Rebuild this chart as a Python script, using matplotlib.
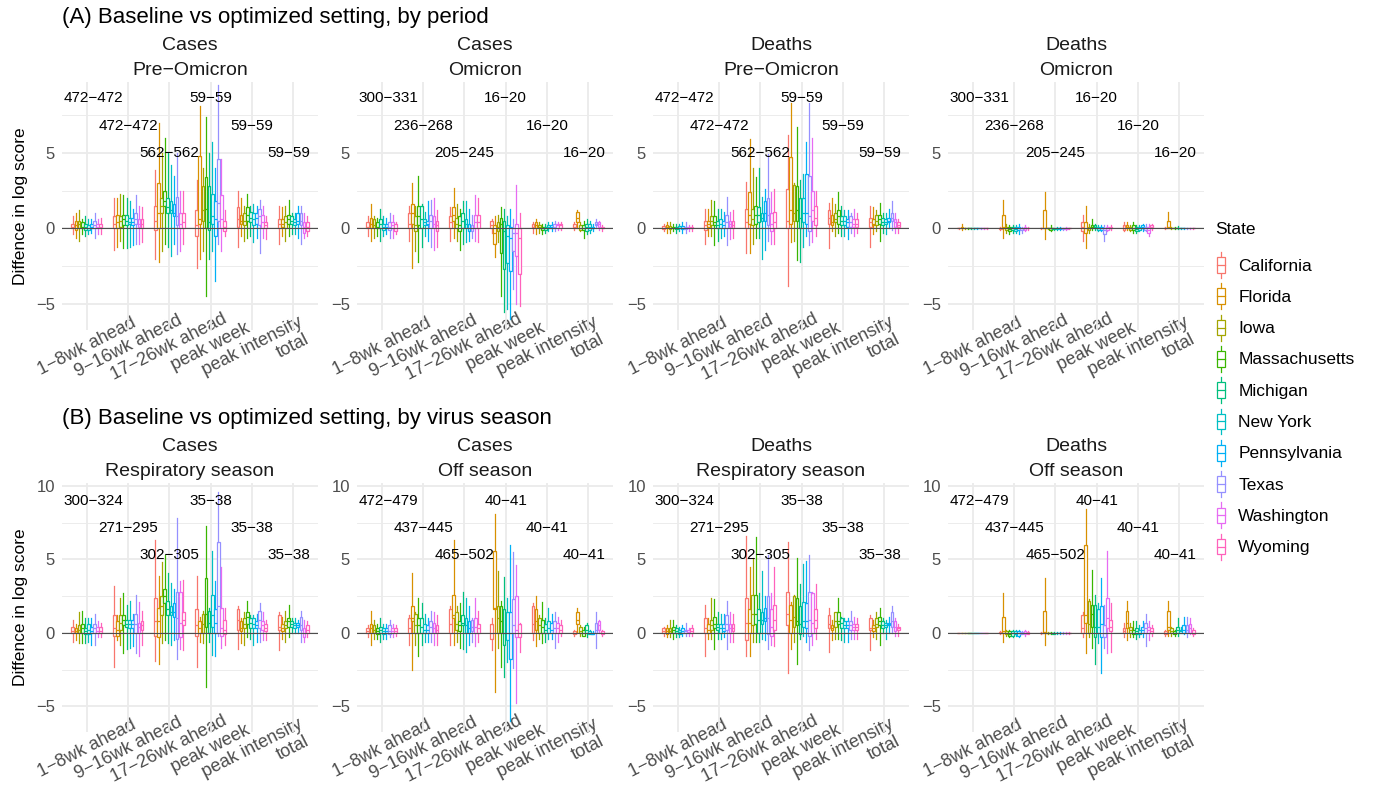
import matplotlib
matplotlib.use("Agg")
import matplotlib.pyplot as plt
from matplotlib.legend_handler import HandlerBase
from matplotlib.lines import Line2D
from matplotlib.patches import Rectangle

plt.rcParams['font.family'] = ['Liberation Sans', 'DejaVu Sans']

states = ["California", "Florida", "Iowa", "Massachusetts", "Michigan",
          "New York", "Pennsylvania", "Texas", "Washington", "Wyoming"]
colors = ["#F8766D", "#D89000", "#A3A500", "#39B600", "#00BF7D",
          "#00BFC4", "#00B0F6", "#9590FF", "#E76BF3", "#FF62BC"]
targets = ["1\u22128wk ahead", "9\u221216wk ahead", "17\u221226wk ahead",
           "peak week", "peak intensity", "total"]

# (whisker low, q1, median, q3, whisker high) per target, per state
cases_pre = [
    [(-0.4, 0, 0.1, 0.3, 0.8), (-0.6, -0.1, 0.2, 0.5, 1.0), (-0.8, 0, 0.3, 0.5, 1.2), (-0.4, 0, 0.1, 0.4, 0.6), (-0.5, -0.1, 0.1, 0.3, 0.8),
     (-0.4, -0.1, 0.05, 0.2, 0.6), (-0.3, 0, 0.1, 0.3, 0.6), (-0.6, 0, 0.2, 0.5, 1.0), (-0.4, 0, 0.1, 0.3, 0.6), (-0.4, 0, 0.1, 0.3, 0.7)],
    [(-1.4, 0, 0.3, 0.8, 2.0), (-1.2, 0, 0.4, 0.9, 2.0), (-0.8, 0.1, 0.5, 0.8, 2.3), (-1.3, 0.2, 0.6, 0.9, 2.2), (-1.3, 0.2, 0.5, 0.9, 2.0),
     (-1.2, 0.3, 0.4, 0.7, 1.8), (-1.1, 0.2, 0.4, 0.7, 1.3), (-1.0, 0.3, 0.6, 1.0, 2.2), (-1.0, 0.1, 0.3, 0.6, 1.5), (-0.9, 0, 0.3, 0.6, 1.4)],
    [(-2.0, -0.1, 0.5, 1.5, 3.9), (-2.2, 0, 1.0, 3.0, 7.0), (-1.5, 1.0, 1.5, 2.0, 5.0), (-1.0, 1.5, 1.8, 2.5, 6.0), (-1.2, 1.0, 1.4, 2.0, 5.0),
     (-1.8, 1.0, 1.2, 1.8, 4.2), (-1.0, 0.8, 1.0, 1.6, 3.5), (-1.7, 0.2, 0.8, 2.1, 5.0), (-1.5, 0, 0.3, 1.0, 2.5), (-1.0, 0, 0.4, 1.0, 2.5)],
    [(-2.6, -0.5, 0.2, 1.2, 3.2), (-2.0, 0.3, 0.6, 4.8, 8.1), (-1.5, 0.5, 1.2, 2.8, 4.0), (-4.5, 0, 1.3, 3.4, 7.4), (-2.0, -0.1, 0.4, 2.8, 5.0),
     (-1.5, 0.3, 0.8, 2.3, 5.7), (-3.5, -0.5, 0.6, 1.8, 4.0), (-1.0, 0.5, 1.7, 4.6, 9.5), (-1.5, 0, 0.6, 2.2, 4.6), (-0.5, -0.2, 0.1, 0.5, 1.2)],
    [(-1.2, 0.1, 0.6, 1.4, 2.5), (-0.5, 0.3, 0.5, 0.9, 2.0), (-0.8, 0.2, 0.5, 1.0, 1.5), (-0.6, 0.5, 0.9, 1.4, 2.3), (-0.5, 0.4, 0.7, 1.1, 1.5),
     (-0.9, 0.2, 0.6, 1.0, 1.6), (-0.6, 0.3, 0.7, 1.0, 1.5), (-1.6, 0.2, 0.8, 1.3, 1.9), (-0.6, 0, 0.4, 0.9, 1.5), (-0.7, 0, 0.2, 0.4, 0.8)],
    [(-1.0, 0, 0.3, 0.6, 1.5), (-0.5, 0.1, 0.3, 0.6, 1.4), (-0.8, 0, 0.4, 0.8, 1.5), (-0.5, 0.3, 0.6, 0.9, 1.9), (-0.4, 0.3, 0.5, 0.8, 1.0),
     (-0.4, 0.2, 0.4, 0.6, 1.0), (-0.6, 0.3, 0.5, 1.0, 1.5), (-1.0, 0.2, 0.5, 1.0, 1.5), (-0.6, -0.3, 0.1, 0.4, 1.0), (-0.5, -0.2, 0.1, 0.4, 0.8)],
]

cases_omi = [
    [(-0.5, 0, 0.1, 0.4, 0.8), (-0.8, 0, 0.3, 0.7, 1.6), (-0.6, 0, 0.2, 0.6, 0.8), (-0.5, 0, 0.1, 0.4, 0.7), (-0.8, 0, 0.3, 0.6, 1.3),
     (-0.5, -0.1, 0.1, 0.3, 0.8), (-0.4, 0, 0.1, 0.3, 0.7), (-0.6, -0.1, 0.1, 0.4, 1.0), (-0.6, 0, 0.2, 0.4, 0.9), (-0.4, -0.2, 0, 0.3, 0.4)],
    [(-0.8, 0, 0.3, 1.0, 1.5), (-2.6, 0.3, 1.0, 1.6, 3.0), (-1.5, -0.2, 0.2, 0.8, 1.5), (-2.2, 0.2, 0.8, 1.5, 3.5), (-1.2, 0, 0.6, 1.5, 1.6),
     (-0.5, 0.2, 0.4, 0.6, 1.1), (-0.8, 0.2, 0.3, 0.5, 1.8), (-1.2, 0, 0.5, 0.9, 1.9), (-1.4, 0, 0.3, 0.8, 2.0), (-1.2, -0.2, 0.2, 0.5, 1.2)],
    [(-0.8, 0, 0.4, 0.8, 1.4), (-0.6, 0.5, 0.9, 1.4, 2.7), (-0.8, 0, 0.3, 0.7, 1.6), (-1.4, -0.2, 0.2, 0.8, 1.3), (-1.0, 0, 0.5, 1.0, 1.8),
     (-0.9, 0, 0.3, 0.6, 1.8), (-0.8, -0.2, 0, 0.3, 1.3), (-0.6, -0.2, 0, 0.2, 0.9), (-0.8, 0, 0.4, 0.9, 2.2), (-0.9, 0, 0.4, 0.9, 2.0)],
    [(-0.3, 0, 0.2, 0.5, 0.6), (-1.9, -1.0, -0.3, 0.2, 0.8), (-0.9, -0.2, 0.1, 0.4, 0.9), (-4.5, -1.6, 0.3, 0.7, 1.4), (-5.5, -2.7, -0.2, 0.5, 1.3),
     (-5.3, -2.3, -0.5, 0.2, 0.8), (-6.0, -2.8, -0.6, 0.1, 1.3), (-4.0, -1.5, -0.3, 0, 0.6), (-5.0, -1.8, -0.3, 0.3, 2.9), (-5.1, -3.0, -0.6, 0, 1.0)],
    [(-0.3, 0, 0.1, 0.3, 0.4), (-0.4, 0, 0.2, 0.4, 0.6), (-0.3, 0, 0.1, 0.2, 0.4), (-0.4, -0.1, 0, 0.1, 0.3), (-0.3, -0.1, 0, 0.1, 0.3),
     (-0.2, 0, 0.1, 0.2, 0.4), (-0.2, 0, 0.1, 0.2, 0.4), (-0.2, 0, 0.1, 0.3, 0.5), (-0.1, 0, 0.2, 0.3, 0.4), (-0.1, 0, 0.2, 0.3, 0.4)],
    [(-0.1, 0, 0.1, 0.3, 0.4), (0, 0.4, 0.7, 1.1, 1.2), (-0.2, -0.1, 0, 0.2, 0.4), (-0.6, -0.1, 0, 0.2, 0.5), (-0.4, -0.2, 0.1, 0.3, 0.6),
     (-0.3, -0.1, 0.1, 0.3, 0.5), (-0.2, 0, 0.05, 0.1, 0.3), (0, 0.2, 0.3, 0.4, 0.6), (-0.1, 0.1, 0.3, 0.4, 0.5), (-0.2, 0, 0.05, 0.1, 0.2)],
]

deaths_pre = [
    [(-0.2, -0.05, 0.05, 0.15, 0.3), (-0.3, 0, 0.1, 0.2, 0.4), (-0.3, -0.05, 0.05, 0.15, 0.4), (-0.2, 0, 0.05, 0.1, 0.3), (-0.3, -0.05, 0.05, 0.1, 0.3),
     (-0.2, 0, 0.05, 0.15, 0.3), (-0.3, -0.05, 0.05, 0.15, 0.4), (-0.3, -0.05, 0.05, 0.1, 0.4), (-0.2, 0, 0.05, 0.1, 0.2), (-0.2, 0, 0.05, 0.1, 0.2)],
    [(-1.0, -0.1, 0.2, 0.5, 1.3), (-0.5, 0.1, 0.3, 0.5, 1.3), (-0.5, 0.2, 0.5, 0.8, 1.9), (-1.1, 0.2, 0.4, 0.8, 1.8), (-0.8, 0, 0.2, 0.5, 1.3),
     (-0.6, 0, 0.3, 0.6, 1.3), (-0.5, 0, 0.2, 0.5, 1.1), (-1.1, 0, 0.4, 0.9, 2.1), (-0.7, 0.1, 0.3, 0.5, 1.1), (-0.6, 0, 0.2, 0.5, 1.2)],
    [(-1.6, 0, 0.4, 1.3, 3.1), (-1.6, 0.3, 0.9, 2.4, 5.9), (-1.0, 0.2, 0.6, 1.3, 4.0), (-0.6, 0.3, 0.9, 1.5, 3.4), (-0.6, 0.4, 0.9, 1.4, 4.0),
     (-2.0, 0.5, 0.7, 1.0, 2.1), (-1.4, 0.5, 1.0, 1.8, 2.6), (-0.8, 0.2, 0.9, 2.0, 4.9), (-1.0, -0.2, 0.3, 1.0, 2.4), (-1.0, 0, 0.4, 1.1, 2.6)],
    [(-3.8, 0, 0.5, 2.6, 6.2), (-0.9, 0.3, 1.2, 4.7, 8.3), (-0.8, 0.5, 1.0, 2.9, 3.0), (-2.1, 0.5, 1.2, 2.8, 6.7), (-2.2, 0, 0.7, 2.0, 3.2),
     (-1.2, 0.4, 1.0, 2.0, 3.6), (-0.5, 0.3, 1.0, 3.6, 5.7), (-1.1, -0.2, 0.8, 3.5, 8.3), (-0.9, 0.5, 1.2, 2.5, 6.0), (-0.5, 0.2, 0.7, 1.5, 2.5)],
    [(-1.3, 0.3, 0.7, 1.2, 1.7), (-0.2, 0.2, 0.4, 0.9, 2.0), (-0.5, 0.4, 0.6, 1.0, 1.6), (-0.3, 0.3, 0.8, 1.2, 2.4), (-0.5, 0.2, 0.5, 0.8, 1.5),
     (-0.5, 0.2, 0.5, 0.8, 1.2), (-0.7, 0.1, 0.4, 0.6, 1.2), (-0.3, 0.1, 0.4, 0.8, 1.0), (-0.5, 0.1, 0.3, 0.6, 1.3), (-0.3, 0.1, 0.3, 0.6, 1.0)],
    [(-1.2, 0.1, 0.4, 0.7, 1.5), (-0.4, 0.2, 0.3, 0.6, 1.4), (-0.2, 0.2, 0.5, 0.9, 1.2), (-0.8, 0.3, 0.6, 0.9, 1.7), (-0.3, 0.2, 0.4, 0.7, 1.0),
     (-0.4, 0.3, 0.4, 0.6, 1.0), (0, 0.4, 0.5, 0.7, 1.3), (-0.1, 0.5, 0.7, 1.0, 1.8), (-0.3, 0.1, 0.4, 0.6, 1.0), (-0.3, 0.1, 0.2, 0.4, 0.6)],
]

deaths_omi = [
    [(-0.05, 0, 0, 0.02, 0.05), (-0.1, 0, 0.05, 0.1, 0.3), (-0.05, 0, 0, 0.02, 0.05), (-0.05, 0, 0, 0.02, 0.05), (-0.05, 0, 0, 0.02, 0.05),
     (-0.05, 0, 0, 0.02, 0.05), (-0.05, 0, 0, 0.02, 0.05), (-0.05, 0, 0, 0.02, 0.05), (-0.05, 0, 0, 0.02, 0.05), (-0.05, 0, 0, 0.02, 0.05)],
    [(-0.1, -0.05, 0, 0.05, 0.1), (-0.6, 0, 0.1, 0.9, 1.9), (-0.3, -0.1, 0, 0.1, 0.3), (-0.4, -0.2, -0.05, 0.1, 0.2), (-0.3, -0.1, 0, 0.1, 0.2),
     (-0.3, -0.2, -0.05, 0.1, 0.2), (-0.4, -0.1, 0, 0.1, 0.3), (-0.3, -0.1, 0, 0.05, 0.1), (-0.2, -0.1, 0, 0.1, 0.2), (-0.1, 0, 0, 0.05, 0.1)],
    [(-0.05, 0, 0, 0.02, 0.05), (-0.7, 0, 0.05, 1.2, 2.4), (-0.05, 0, 0, 0.02, 0.05), (-0.2, -0.1, 0, 0.05, 0.2), (-0.1, -0.05, 0, 0.02, 0.05),
     (-0.1, -0.05, 0, 0.02, 0.1), (-0.1, -0.05, 0, 0.02, 0.1), (-0.1, -0.05, 0, 0.02, 0.05), (-0.1, -0.05, 0, 0.02, 0.1), (-0.05, 0, 0, 0.02, 0.05)],
    [(-0.8, -0.2, 0.1, 0.4, 0.9), (-1.3, -0.3, 0, 0.4, 1.5), (-0.3, -0.1, 0, 0.1, 0.3), (-0.1, 0, 0.1, 0.2, 0.6), (-0.1, 0, 0.1, 0.2, 0.3),
     (-0.2, -0.1, 0, 0.1, 0.2), (-0.2, -0.1, 0, 0.1, 0.2), (-0.8, -0.4, -0.1, 0, 0.2), (-0.2, -0.1, 0, 0.1, 0.2), (-0.1, 0, 0.05, 0.1, 0.2)],
    [(-0.2, -0.1, 0, 0.2, 0.4), (-0.1, 0, 0.1, 0.2, 0.4), (-0.2, -0.1, 0, 0.1, 0.2), (-0.3, -0.1, 0, 0.2, 0.4), (-0.3, -0.2, -0.05, 0.1, 0.2),
     (-0.2, -0.1, 0, 0.1, 0.2), (-0.2, 0, 0.1, 0.2, 0.3), (-0.2, -0.1, 0, 0.1, 0.3), (-0.5, -0.3, -0.1, 0.1, 0.3), (-0.1, 0, 0.1, 0.2, 0.3)],
    [(-0.05, 0, 0, 0.05, 0.1), (0, 0, 0.1, 0.5, 1.1), (-0.05, 0, 0, 0.05, 0.1), (-0.05, 0, 0, 0.05, 0.1), (-0.05, 0, 0, 0.05, 0.15),
     (-0.05, 0, 0, 0.02, 0.05), (-0.05, 0, 0, 0.02, 0.05), (-0.05, 0, 0, 0.02, 0.05), (-0.05, 0, 0, 0.02, 0.05), (-0.05, 0, 0, 0.02, 0.05)],
]

cases_resp = [
    [(-0.6, 0, 0.1, 0.4, 0.9), (-0.5, 0, 0.1, 0.3, 0.6), (-0.7, 0, 0.2, 0.5, 1.4), (-0.7, 0, 0.3, 0.6, 1.5), (-0.7, -0.1, 0.1, 0.3, 1.0),
     (-0.6, -0.1, 0.2, 0.6, 1.0), (-0.8, 0, 0.1, 0.4, 1.0), (-0.8, 0, 0.3, 0.6, 1.3), (-0.3, 0, 0.1, 0.4, 0.8), (-0.3, 0, 0.1, 0.4, 0.7)],
    [(-2.3, -0.2, 0.3, 1.2, 3.2), (-0.5, -0.2, 0.2, 0.8, 1.2), (-0.8, 0.2, 0.7, 1.2, 2.4), (-1.4, 0.5, 0.9, 1.2, 2.7), (-1.1, 0.4, 0.6, 0.9, 1.9),
     (-1.0, 0.3, 0.6, 0.9, 2.2), (-0.9, 0.3, 0.6, 0.9, 1.3), (-1.4, 0, 0.6, 1.3, 2.6), (-1.6, 0, 0.4, 0.7, 2.1), (-0.8, 0.2, 0.5, 0.8, 1.5)],
    [(-1.9, -0.2, 0.8, 2.4, 6.3), (-2.1, -0.3, 0.8, 1.7, 3.9), (-0.7, 1.2, 1.8, 2.5, 4.8), (-0.5, 2.0, 2.5, 3.0, 5.3), (-0.7, 1.2, 1.6, 2.2, 4.1),
     (-0.8, 1.2, 1.4, 1.8, 3.4), (-0.5, 1.1, 1.4, 2.0, 3.0), (-1.8, -0.4, 1.0, 2.8, 7.8), (-1.1, -0.3, 0.7, 2.8, 3.5), (-1.2, 0.5, 0.9, 1.4, 3.6)],
    [(-2.3, -0.2, 0.5, 1.6, 3.9), (-0.6, 0, 0.3, 0.8, 1.1), (-0.7, 0, 0.6, 1.3, 1.5), (-3.7, 0.4, 1.3, 3.7, 7.3), (-0.6, 0, 0.7, 1.5, 1.7),
     (-1.5, 0.4, 1.2, 2.6, 5.6), (-1.6, 0, 0.7, 1.6, 3.5), (-0.2, 0, 1.8, 6.2, 9.6), (-1.0, -0.2, 0.3, 1.7, 4.5), (-0.8, -0.1, 0.2, 0.9, 1.7)],
    [(-1.1, 0.2, 0.9, 1.6, 1.8), (-0.7, 0.1, 0.3, 0.8, 1.0), (-0.8, 0.3, 0.6, 1.0, 1.4), (-0.3, 0.6, 1.1, 1.4, 2.2), (-0.4, 0.3, 0.7, 1.0, 1.2),
     (-0.8, 0.3, 0.6, 1.0, 1.2), (-0.6, 0.3, 0.5, 0.8, 1.3), (-0.6, 0.3, 0.9, 1.5, 2.0), (-0.5, 0.2, 0.5, 0.8, 1.4), (-0.5, 0.1, 0.3, 0.6, 0.9)],
    [(-1.2, 0.2, 0.4, 1.2, 1.4), (-0.4, 0.1, 0.3, 0.6, 1.1), (-0.6, 0.3, 0.5, 0.8, 1.5), (-0.3, 0.4, 0.8, 1.0, 1.9), (0, 0.4, 0.6, 0.8, 1.0),
     (0, 0.3, 0.5, 0.7, 1.0), (0, 0.4, 0.5, 0.7, 0.9), (-0.6, 0.2, 0.5, 1.1, 1.5), (-0.6, -0.3, 0, 0.3, 0.9), (-0.3, 0, 0.2, 0.5, 0.8)],
]

cases_off = [
    [(-0.3, 0, 0.1, 0.3, 0.5), (-0.8, 0, 0.3, 0.6, 1.5), (-0.4, 0, 0.2, 0.5, 0.9), (-0.4, -0.1, 0.1, 0.3, 0.6), (-0.6, 0, 0.2, 0.4, 1.0),
     (-0.4, -0.1, 0.1, 0.3, 0.6), (-0.4, 0, 0.1, 0.3, 0.6), (-0.3, -0.1, 0.1, 0.5, 0.9), (-0.3, 0, 0.1, 0.3, 0.6), (-0.2, 0, 0.1, 0.3, 0.5)],
    [(-0.8, 0, 0.3, 1.0, 1.2), (-2.5, 0.8, 1.0, 1.8, 4.1), (-0.8, 0, 0.5, 1.3, 1.4), (-1.6, 0, 0.5, 1.0, 2.4), (-0.8, 0, 0.4, 1.0, 2.0),
     (-0.6, 0, 0.2, 0.6, 1.3), (-0.6, 0, 0.2, 0.5, 1.0), (-0.6, 0, 0.4, 0.8, 1.5), (-0.8, 0, 0.3, 0.7, 1.4), (-0.8, 0, 0.2, 0.5, 1.2)],
    [(-0.8, 0, 0.6, 1.6, 1.8), (-0.8, 1.0, 1.2, 2.6, 6.3), (-0.6, 0.2, 0.6, 1.4, 1.8), (-1.0, 0.1, 0.5, 0.8, 2.0), (-1.1, 0.5, 0.7, 1.2, 2.8),
     (-1.3, 0, 0.5, 1.0, 2.4), (-0.8, 0, 0.3, 0.8, 1.8), (-0.6, 0.1, 0.4, 0.9, 1.0), (-0.9, 0, 0.4, 1.0, 2.4), (-0.6, 0, 0.3, 0.6, 1.5)],
    [(-1.2, -0.4, 0, 0.6, 1.0), (-4.0, 1.6, 1.7, 5.6, 8.1), (-1.0, 0, 1.0, 1.8, 4.2), (-2.3, 0, 0.8, 1.8, 2.2), (-3.0, -0.8, 0, 1.6, 3.8),
     (-2.0, -0.5, 0, 1.4, 2.4), (-6.0, -1.8, 0, 1.4, 6.0), (-2.4, 0, 0.5, 2.3, 5.5), (-4.8, -0.3, 0.2, 2.5, 4.6), (-1.3, -0.3, 0, 0.6, 0.7)],
    [(-0.5, 0, 0.6, 1.8, 2.0), (-0.9, 0.2, 0.8, 1.6, 2.5), (-0.4, 0, 0.5, 1.0, 1.2), (-0.7, 0, 0.4, 0.9, 2.1), (-0.6, 0, 0.2, 0.6, 1.0),
     (-0.4, 0, 0.3, 0.8, 1.7), (-0.4, 0, 0.2, 0.7, 1.3), (-1.0, 0, 0.3, 0.8, 1.4), (-0.6, 0, 0.3, 0.7, 1.1), (-0.2, 0, 0.2, 0.5, 0.9)],
    [(-0.2, -0.1, 0, 0.1, 0.2), (0, 0.6, 0.9, 1.4, 1.7), (-0.2, 0, 0.1, 0.4, 0.5), (-0.2, -0.2, 0, 0.2, 0.4), (-0.3, 0, 0.2, 0.5, 0.7),
     (-0.1, -0.1, 0, 0.1, 0.2), (-0.1, -0.1, -0.05, 0, 0.1), (-1.0, 0, 0.2, 0.7, 1.4), (0, 0.2, 0.5, 0.8, 0.9), (-0.2, -0.1, 0, 0.1, 0.2)],
]

deaths_resp = [
    [(-0.2, 0, 0.1, 0.3, 0.4), (-0.3, -0.1, 0.1, 0.3, 0.5), (-0.3, 0, 0.1, 0.3, 0.9), (-0.4, 0, 0.2, 0.4, 0.9), (-0.3, 0, 0.1, 0.3, 0.5),
     (-0.3, -0.1, 0.05, 0.2, 0.4), (-0.2, 0, 0.1, 0.3, 0.5), (-0.2, 0, 0.1, 0.2, 0.7), (-0.2, 0, 0.05, 0.2, 0.3), (-0.2, 0, 0.1, 0.3, 0.5)],
    [(-1.6, 0, 0.3, 1.0, 1.9), (-0.4, 0, 0.2, 0.6, 1.0), (-0.4, 0.2, 0.5, 0.9, 2.4), (-1.1, 0.3, 0.6, 1.1, 2.3), (-0.4, 0.2, 0.4, 0.6, 1.4),
     (-0.4, 0, 0.3, 0.6, 1.3), (-0.3, 0.1, 0.3, 0.6, 1.3), (-1.1, 0.2, 0.6, 1.2, 2.2), (-0.6, 0, 0.3, 0.6, 1.4), (-0.6, 0.1, 0.3, 0.6, 1.3)],
    [(-1.6, -0.5, 0.7, 2.4, 6.6), (-1.6, 0, 0.7, 1.6, 4.5), (-0.6, 0.5, 1.3, 2.6, 5.1), (-0.6, 0.6, 1.3, 2.6, 6.5), (-0.6, 0, 0.9, 1.6, 2.7),
     (-0.4, 0.6, 0.9, 1.4, 4.2), (-0.5, 0.8, 1.0, 1.7, 2.5), (-1.1, -0.1, 1.0, 2.5, 5.3), (-0.8, -0.2, 0.4, 1.6, 2.7), (-0.9, 0.2, 0.9, 1.9, 4.5)],
    [(-2.7, 0.5, 1.3, 2.8, 6.2), (-1.1, 0, 0.9, 1.9, 2.1), (-0.6, 0.4, 1.1, 2.5, 2.6), (-2.1, 0.5, 0.8, 2.4, 5.1), (-0.4, -0.1, 0.6, 1.8, 3.3),
     (-0.2, 0.4, 0.8, 2.1, 4.7), (-0.6, 0.3, 0.8, 2.0, 4.9), (-1.2, -0.2, 0.9, 2.8, 5.3), (-0.8, 0, 0.7, 2.7, 2.8), (-0.4, 0.3, 0.9, 1.6, 3.3)],
    [(-1.3, 0.3, 0.6, 1.2, 1.7), (-0.5, 0.2, 0.3, 0.5, 0.9), (-0.4, 0.4, 0.8, 1.4, 1.4), (-0.4, 0.6, 0.8, 1.4, 2.4), (-0.5, 0.3, 0.7, 1.0, 1.1),
     (-0.6, 0.3, 0.5, 0.8, 1.0), (-0.6, 0.3, 0.5, 0.8, 1.0), (-0.4, 0.2, 0.5, 0.8, 1.5), (-0.4, 0.2, 0.4, 0.6, 1.1), (-0.4, 0.2, 0.4, 0.6, 1.0)],
    [(-1.2, 0.2, 0.3, 1.0, 1.2), (-0.3, 0.1, 0.3, 0.5, 0.9), (-0.4, 0.4, 0.6, 1.0, 1.4), (-0.8, 0.5, 0.8, 1.1, 1.7), (0, 0.3, 0.5, 0.8, 1.0),
     (-0.4, 0.4, 0.5, 0.7, 0.9), (0, 0.5, 0.6, 0.7, 1.1), (0, 0.4, 0.8, 1.4, 1.8), (-0.2, 0.1, 0.4, 0.8, 1.0), (-0.2, 0.2, 0.3, 0.4, 0.6)],
]

deaths_off = [
    [(-0.02, 0, 0, 0.01, 0.02), (-0.02, 0, 0, 0.01, 0.02), (-0.02, 0, 0, 0.01, 0.02), (-0.02, 0, 0, 0.01, 0.02), (-0.02, 0, 0, 0.01, 0.02),
     (-0.02, 0, 0, 0.01, 0.02), (-0.02, 0, 0, 0.01, 0.02), (-0.02, 0, 0, 0.01, 0.02), (-0.02, 0, 0, 0.01, 0.02), (-0.02, 0, 0, 0.01, 0.02)],
    [(-0.1, 0, 0, 0.05, 0.1), (-0.6, 0, 0.1, 1.1, 2.7), (-0.2, -0.1, 0, 0.1, 0.2), (-0.3, -0.2, -0.05, 0.1, 0.2), (-0.3, -0.2, 0, 0.1, 0.2),
     (-0.2, -0.1, 0, 0.1, 0.2), (-0.3, -0.2, 0, 0.1, 0.2), (-0.1, -0.1, 0, 0.05, 0.1), (-0.2, -0.1, 0, 0.1, 0.2), (-0.1, -0.05, 0, 0.05, 0.1)],
    [(-0.05, 0, 0, 0.02, 0.05), (-0.8, 0, 0.05, 1.5, 3.7), (-0.05, 0, 0, 0.02, 0.05), (-0.05, 0, 0, 0.02, 0.05), (-0.1, -0.05, 0, 0.02, 0.05),
     (-0.05, 0, 0, 0.02, 0.05), (-0.05, 0, 0, 0.02, 0.05), (-0.05, 0, 0, 0.02, 0.05), (-0.05, 0, 0, 0.02, 0.05), (-0.05, 0, 0, 0.02, 0.05)],
    [(-0.3, 0, 0.3, 1.2, 1.4), (-1.4, 0.7, 1.2, 6.0, 8.4), (-0.3, 0, 0.6, 2.2, 2.3), (-1.0, 0.4, 1.3, 1.9, 4.3), (-2.1, -0.3, 0.4, 1.9, 2.6),
     (-0.7, 0, 0.4, 1.6, 2.0), (-2.7, -0.3, 0.6, 1.8, 3.7), (-1.0, -0.3, 0, 0.5, 1.9), (-1.4, 0.3, 1.0, 2.4, 5.6), (-1.3, 0.1, 0.4, 0.9, 2.0)],
    [(-0.3, 0, 0.1, 0.3, 0.7), (-0.5, 0.3, 0.7, 1.5, 2.2), (-0.3, 0, 0.2, 0.4, 0.7), (-0.3, -0.1, 0, 0.2, 0.8), (-0.4, -0.1, 0.1, 0.3, 0.8),
     (-0.3, -0.1, 0, 0.2, 0.5), (-0.3, 0, 0.2, 0.4, 0.8), (-0.9, 0, 0.3, 0.7, 1.3), (-0.5, 0, 0.2, 0.4, 0.8), (-0.2, 0, 0.1, 0.3, 0.5)],
    [(-0.2, -0.1, 0, 0.1, 0.2), (-0.2, 0.2, 0.4, 1.5, 2.2), (-0.2, 0, 0.1, 0.3, 0.4), (-0.2, -0.1, 0, 0.1, 0.2), (-0.2, 0, 0.2, 0.4, 1.0),
     (0, 0, 0.1, 0.2, 0.4), (-0.1, 0, 0.2, 0.5, 1.1), (-0.3, 0, 0.2, 0.5, 1.1), (-0.1, 0, 0.3, 0.6, 1.0), (-0.2, -0.1, 0, 0.2, 0.3)],
]

# sample size ranges printed above each target
n_pre = ["472\u2212472", "472\u2212472", "562\u2212562", "59\u221259", "59\u221259", "59\u221259"]
n_omi = ["300\u2212331", "236\u2212268", "205\u2212245", "16\u221220", "16\u221220", "16\u221220"]
n_resp = ["300\u2212324", "271\u2212295", "302\u2212305", "35\u221238", "35\u221238", "35\u221238"]
n_off = ["472\u2212479", "437\u2212445", "465\u2212502", "40\u221241", "40\u221241", "40\u221241"]

rows = [
    ("(A) Baseline vs optimized setting, by period",
     [("Cases\nPre\u2212Omicron", cases_pre, n_pre),
      ("Cases\nOmicron", cases_omi, n_omi),
      ("Deaths\nPre\u2212Omicron", deaths_pre, n_pre),
      ("Deaths\nOmicron", deaths_omi, n_omi)]),
    ("(B) Baseline vs optimized setting, by virus season",
     [("Cases\nRespiratory season", cases_resp, n_resp),
      ("Cases\nOff season", cases_off, n_off),
      ("Deaths\nRespiratory season", deaths_resp, n_resp),
      ("Deaths\nOff season", deaths_off, n_off)]),
]

W, H = 1374, 786
fig = plt.figure(figsize=(W / 100, H / 100), dpi=100)

lefts = [62, 357, 653, 948]
pw = 256
row_box = [(82, 330), (483, 732)]
row_ylim = [(-6.72, 9.69), (-6.75, 10.2)]
row_yticks = [[-5, 0, 5], [-5, 0, 5, 10]]
row_label_y = [[8.6, 6.8, 5.0], [9.0, 7.15, 5.3]]
head_y = [23, 424]

grid_c = "#EBEBEB"
xs = list(range(1, len(targets) + 1))
dodge = 0.75
bw = dodge / len(states)

for r, (heading, panels) in enumerate(rows):
    top, bot = row_box[r]
    fig.text(62 / W, 1 - head_y[r] / H, heading, fontsize=16, va="baseline",
             ha="left", color="black")
    for p, (strip, data, nlab) in enumerate(panels):
        ax = fig.add_axes([lefts[p] / W, 1 - bot / H, pw / W, (bot - top) / H])
        ax.set_xlim(0.4, len(targets) + 0.6)
        ax.set_ylim(*row_ylim[r])
        for s, (state, col) in enumerate(zip(states, colors)):
            stats = []
            for t in range(len(targets)):
                lo, q1, med, q3, hi = data[t][s]
                stats.append(dict(whislo=lo, q1=q1, med=med, q3=q3, whishi=hi))
            pos = [x - dodge / 2 + bw * (s + 0.5) for x in xs]
            ax.bxp(stats, positions=pos, widths=bw * 0.9, showfliers=False,
                   showcaps=False, patch_artist=True, manage_ticks=False,
                   boxprops=dict(facecolor="white", edgecolor=col, linewidth=0.9),
                   whiskerprops=dict(color=col, linewidth=0.9),
                   medianprops=dict(color=col, linewidth=0.9))
        ax.axhline(0, color="#4D4D4D", linewidth=0.8, zorder=4)

        for t, lab in enumerate(nlab):
            nudge = 0.15 if t == 0 else (-0.1 if t == len(nlab) - 1 else 0)
            ax.text(xs[t] + nudge, row_label_y[r][t % 3], lab, fontsize=11,
                    ha="center", va="center", color="black", zorder=5)

        ax.set_xticks(xs)
        ax.set_xticklabels(targets, rotation=27, ha="center", va="center",
                           rotation_mode="anchor", fontsize=13, color="#4D4D4D")
        ax.set_yticks(row_yticks[r])
        ax.set_yticks([-2.5, 2.5, 7.5], minor=True)
        ax.tick_params(axis="x", length=0, pad=12)
        ax.tick_params(axis="y", which="both", length=0, pad=5,
                       labelsize=12, labelcolor="#4D4D4D")
        ax.grid(True, which="major", color=grid_c, linewidth=1.3)
        ax.grid(True, which="minor", axis="y", color=grid_c, linewidth=0.65)
        ax.set_axisbelow(True)
        for sp in ax.spines.values():
            sp.set_visible(False)
        ax.set_title(strip, fontsize=14, pad=5, linespacing=1.6, color="#1A1A1A")
        if p == 0:
            ax.set_ylabel("Diffence in log score", fontsize=12.5, labelpad=6)


class BoxHandler(HandlerBase):
    def create_artists(self, legend, orig_handle, xdescent, ydescent,
                       width, height, fontsize, trans):
        col = orig_handle.get_color()
        cx = -xdescent + width / 2
        y0 = -ydescent
        bwid = width * 0.55
        whisk = Line2D([cx, cx], [y0, y0 + height], color=col, lw=0.9, transform=trans)
        box = Rectangle((cx - bwid / 2, y0 + height * 0.2), bwid, height * 0.6,
                        facecolor="white", edgecolor=col, lw=0.9, transform=trans)
        med = Line2D([cx - bwid / 2, cx + bwid / 2], [y0 + height / 2] * 2,
                     color=col, lw=0.9, transform=trans)
        return [whisk, box, med]


fig.text(1215 / W, 1 - 230 / H, "State", fontsize=12.5, ha="left", va="center")
handles = [Line2D([], [], color=c) for c in colors]
leg = fig.legend(handles, states, loc="upper left",
                 bbox_to_anchor=(1214 / W, 1 - 252 / H), frameon=False,
                 fontsize=12.5,
                 handler_map={Line2D: BoxHandler()}, handlelength=0.85,
                 handleheight=1.92, labelspacing=0.31, handletextpad=0.55,
                 borderpad=0, borderaxespad=0)

fig.savefig("out.png", dpi=100)
